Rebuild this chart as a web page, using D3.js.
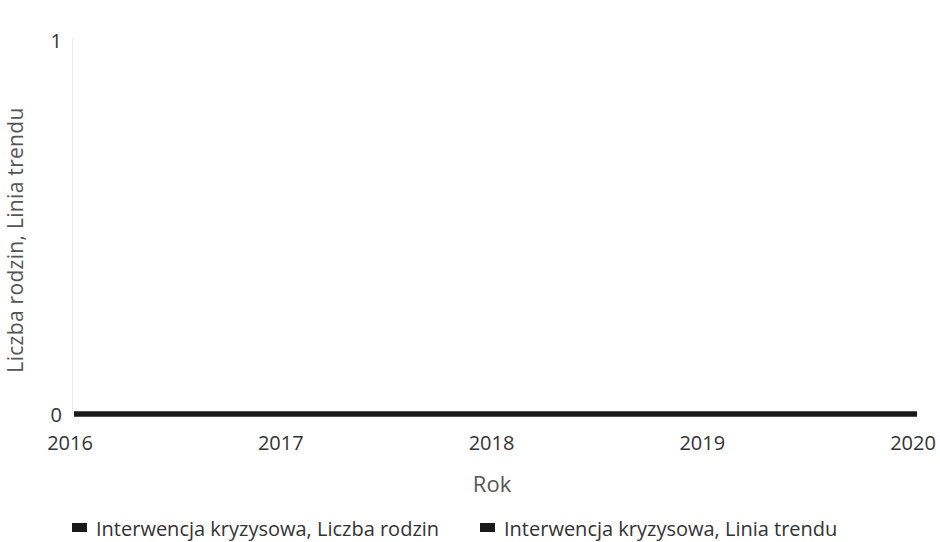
<!DOCTYPE html>
<html><head><meta charset="utf-8">
<script src="https://cdn.jsdelivr.net/npm/d3@7"></script>
<style>body{margin:0;background:#fff;font-family:"Open Sans",sans-serif;}</style>
</head><body><svg id="c" width="940" height="542"></svg>
<script>
const years = [2016, 2017, 2018, 2019, 2020];
const liczbaRodzin = [0, 0, 0, 0, 0];
const liniaTrendu = [0, 0, 0, 0, 0];
const yTicks = [0, 1];
const seriesNames = ["Interwencja kryzysowa, Liczba rodzin", "Interwencja kryzysowa, Linia trendu"];
const seriesColors = ["#1a1a1a", "#1a1a1a"];

const svg = d3.select("#c");
const x = d3.scaleLinear().domain([2016, 2020]).range([74, 917]);
const y = d3.scaleLinear().domain([0, 1]).range([414, 41]);

// y-axis faint line
svg.append("line").attr("x1", 72.5).attr("x2", 72.5).attr("y1", y(1) - 3).attr("y2", y(0))
  .attr("stroke", "#e8e8e8").attr("stroke-width", 1);

// y ticks
svg.selectAll(".yt").data(yTicks).join("text")
  .attr("x", 62).attr("y", d => y(d) + (d === 0 ? 8 : 7))
  .attr("text-anchor", "end").attr("font-size", 20).attr("fill", "#333")
  .text(d => d);

// x ticks
svg.selectAll(".xt").data(years).join("text")
  .attr("x", d => x(d) - 4).attr("y", 450)
  .attr("text-anchor", "middle")
  .attr("font-size", 20).attr("fill", "#333")
  .text(d => d);

// axis titles
svg.append("text").attr("x", 492).attr("y", 492)
  .attr("text-anchor", "middle").attr("font-size", 22).attr("fill", "#555").text("Rok");
svg.append("text").attr("transform", "translate(23,240) rotate(-90)")
  .attr("text-anchor", "middle").attr("font-size", 21).attr("letter-spacing", 0.3)
  .attr("fill", "#555").text("Liczba rodzin, Linia trendu");

const line = d3.line().x((d, i) => x(years[i])).y(d => y(d));
[liczbaRodzin, liniaTrendu].forEach((s, k) => {
  svg.append("path").datum(s).attr("d", line).attr("fill", "none")
    .attr("stroke", seriesColors[k]).attr("stroke-width", 5);
});

// legend
const legX = [72, 480];
seriesNames.forEach((n, i) => {
  svg.append("rect").attr("x", legX[i]).attr("y", 523).attr("width", 15).attr("height", 9)
    .attr("fill", seriesColors[i]);
  svg.append("text").attr("x", legX[i] + 24).attr("y", 536)
    .attr("font-size", 20).attr("fill", "#333").text(n);
});
</script></body></html>
